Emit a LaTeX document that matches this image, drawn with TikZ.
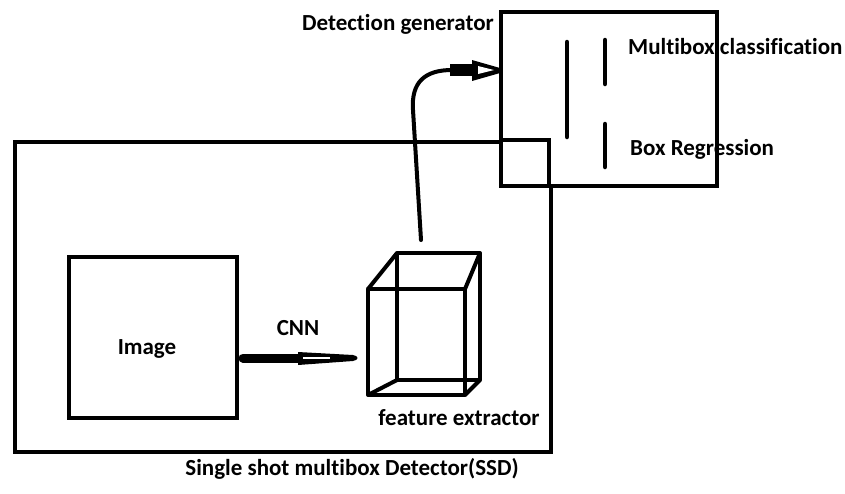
\documentclass[tikz,border=0pt]{standalone}
\usepackage{fontspec}
\setmainfont[Ligatures=CommonOff]{Carlito}
\begin{document}
\begin{tikzpicture}[x=1pt,y=-1pt,
  box/.style={draw=black,line width=4pt},
  lbl/.style={font=\bfseries\fontsize{23}{26}\selectfont,text=black,inner sep=0pt},
  bar/.style={line width=4.5pt,line cap=round},
  edge/.style={line width=4pt}]
\useasboundingbox (0,0) rectangle (845,493);
% boxes
\node[box,minimum width=536pt,minimum height=310pt,anchor=north west,inner sep=0pt] (ssd) at (13,140) {};
\node[box,fill=white,minimum width=216pt,minimum height=174pt,anchor=north west,inner sep=0pt] (gen) at (499,10) {};
% SSD corner visible inside generator box
\draw[edge] (499,140) -- (549,140) -- (549,184);
\node[box,minimum width=168pt,minimum height=161pt,anchor=north west,inner sep=0pt] (img) at (67,255) {};
% cube
\coordinate (fa) at (368,289); \coordinate (fb) at (465,289);
\coordinate (fc) at (465,395); \coordinate (fd) at (368,395);
\coordinate (ba) at (397,253); \coordinate (bb) at (480,253);
\coordinate (bc) at (480,380); \coordinate (bd) at (397,380);
\draw[edge,line join=round] (fa) -- (fb) -- (fc) -- (fd) -- cycle;
\draw[edge,line join=round] (ba) -- (bb) -- (bc) -- (bd) -- cycle;
\draw[edge] (fa) -- (ba) (fb) -- (bb) (fc) -- (bc) (fd) -- (bd);
% bars
\draw[bar] (567,42) -- (567,137);
\draw[bar] (605,40) -- (605,84);
\draw[bar] (605,124) -- (605,167);
% CNN arrow
\coordinate (cnnS) at (243,358);
\coordinate (cnnE) at (358,358);
\draw[line width=9pt,line cap=round] (cnnS) -- (300,358);
\fill (298,352) -- (353,355) .. controls (359,356) and (359,360) .. (353,361) -- (298,365) -- cycle;
\draw[white,line width=2pt] (303,358) -- (330,358);
% generator arrow
\coordinate (gS) at (421,240);
\coordinate (gE) at (500,70);
\draw[edge,line cap=round] (gS) -- (413,110) .. controls (411,82) and (425,70) .. (452,70);
\draw[line width=12pt] (450,70) -- (474,70);
\fill (472,60) -- (500,68) -- (500,73) -- (472,81) -- cycle;
\fill[white] (478,66) -- (494,70) -- (478,74) -- cycle;
% texts
\node[lbl] (tcnn) at (298,328) {CNN};
\node[lbl] (timg) at (147,349) {Image};
\node[lbl] (tfe) at (459,418) {feature extractor};
\node[lbl] (tssd) at (352,469) {Single shot multibox Detector(SSD)};
\node[lbl] (tdg) at (398,24) {Detection generator};
\node[lbl,anchor=west] (tmc) at (628,47) {Multibox classification};
\node[lbl,anchor=west] (tbr) at (630,149) {Box Regression};
\end{tikzpicture}
\end{document}
